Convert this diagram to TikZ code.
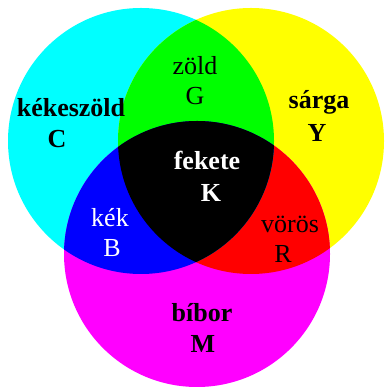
\documentclass[tikz,border=0pt]{standalone}
\usepackage{fontspec}
\setmainfont{Liberation Serif}
\usetikzlibrary{positioning}
\definecolor{inkC}{RGB}{0,255,255}
\definecolor{inkY}{RGB}{255,255,0}
\definecolor{inkM}{RGB}{255,0,255}
\definecolor{mixG}{RGB}{0,255,0}
\definecolor{mixB}{RGB}{0,0,255}
\definecolor{mixR}{RGB}{255,0,0}

\begin{document}
\begin{tikzpicture}[x=1pt, y=1pt,
  lbl/.style={font=\fontsize{26}{30}\selectfont, inner sep=0pt, anchor=base},
  blbl/.style={lbl, font=\fontsize{26}{30}\selectfont\bfseries}]

\useasboundingbox (0,0) rectangle (385,387);

\coordinate (cyanc) at (141,246);
\coordinate (yellowc) at (251,246);
\coordinate (magentac) at (197,133);

% the three inks
\fill[inkC] (cyanc) circle (133pt);
\fill[inkY] (yellowc) circle (133pt);
\fill[inkM] (magentac) circle (133pt);

% overlaps
\begin{scope}
\clip (yellowc) circle (133pt);
\fill[mixR] (magentac) circle (133pt);
\end{scope}
\begin{scope}
\clip (cyanc) circle (133pt);
\fill[mixG] (yellowc) circle (133pt);
\fill[mixB] (magentac) circle (133pt);
\clip (yellowc) circle (133pt);
\fill[black] (magentac) circle (133pt);
\end{scope}

\node[blbl] (kekeszold) at (71,270) {kékeszöld};
\node[blbl] (cC) at (57,239) {C};

\node[lbl] (zold) at (195,312) {zöld};
\node[lbl] (gG) at (195,282) {G};

\node[blbl] (sarga) at (319,278) {sárga};
\node[blbl] (yY) at (317,245) {Y};

\node[blbl, white] (fekete) at (207,217) {fekete};
\node[blbl, white] (kK) at (211,185) {K};

\node[lbl, white] (kek) at (110,160) {kék};
\node[lbl, white] (bB) at (112,130) {B};

\node[lbl] (voros) at (290,154) {vörös};
\node[lbl] (rR) at (283,124) {R};

\node[blbl] (bibor) at (202,65) {bíbor};
\node[blbl] (mM) at (203,34) {M};

\end{tikzpicture}
\end{document}
